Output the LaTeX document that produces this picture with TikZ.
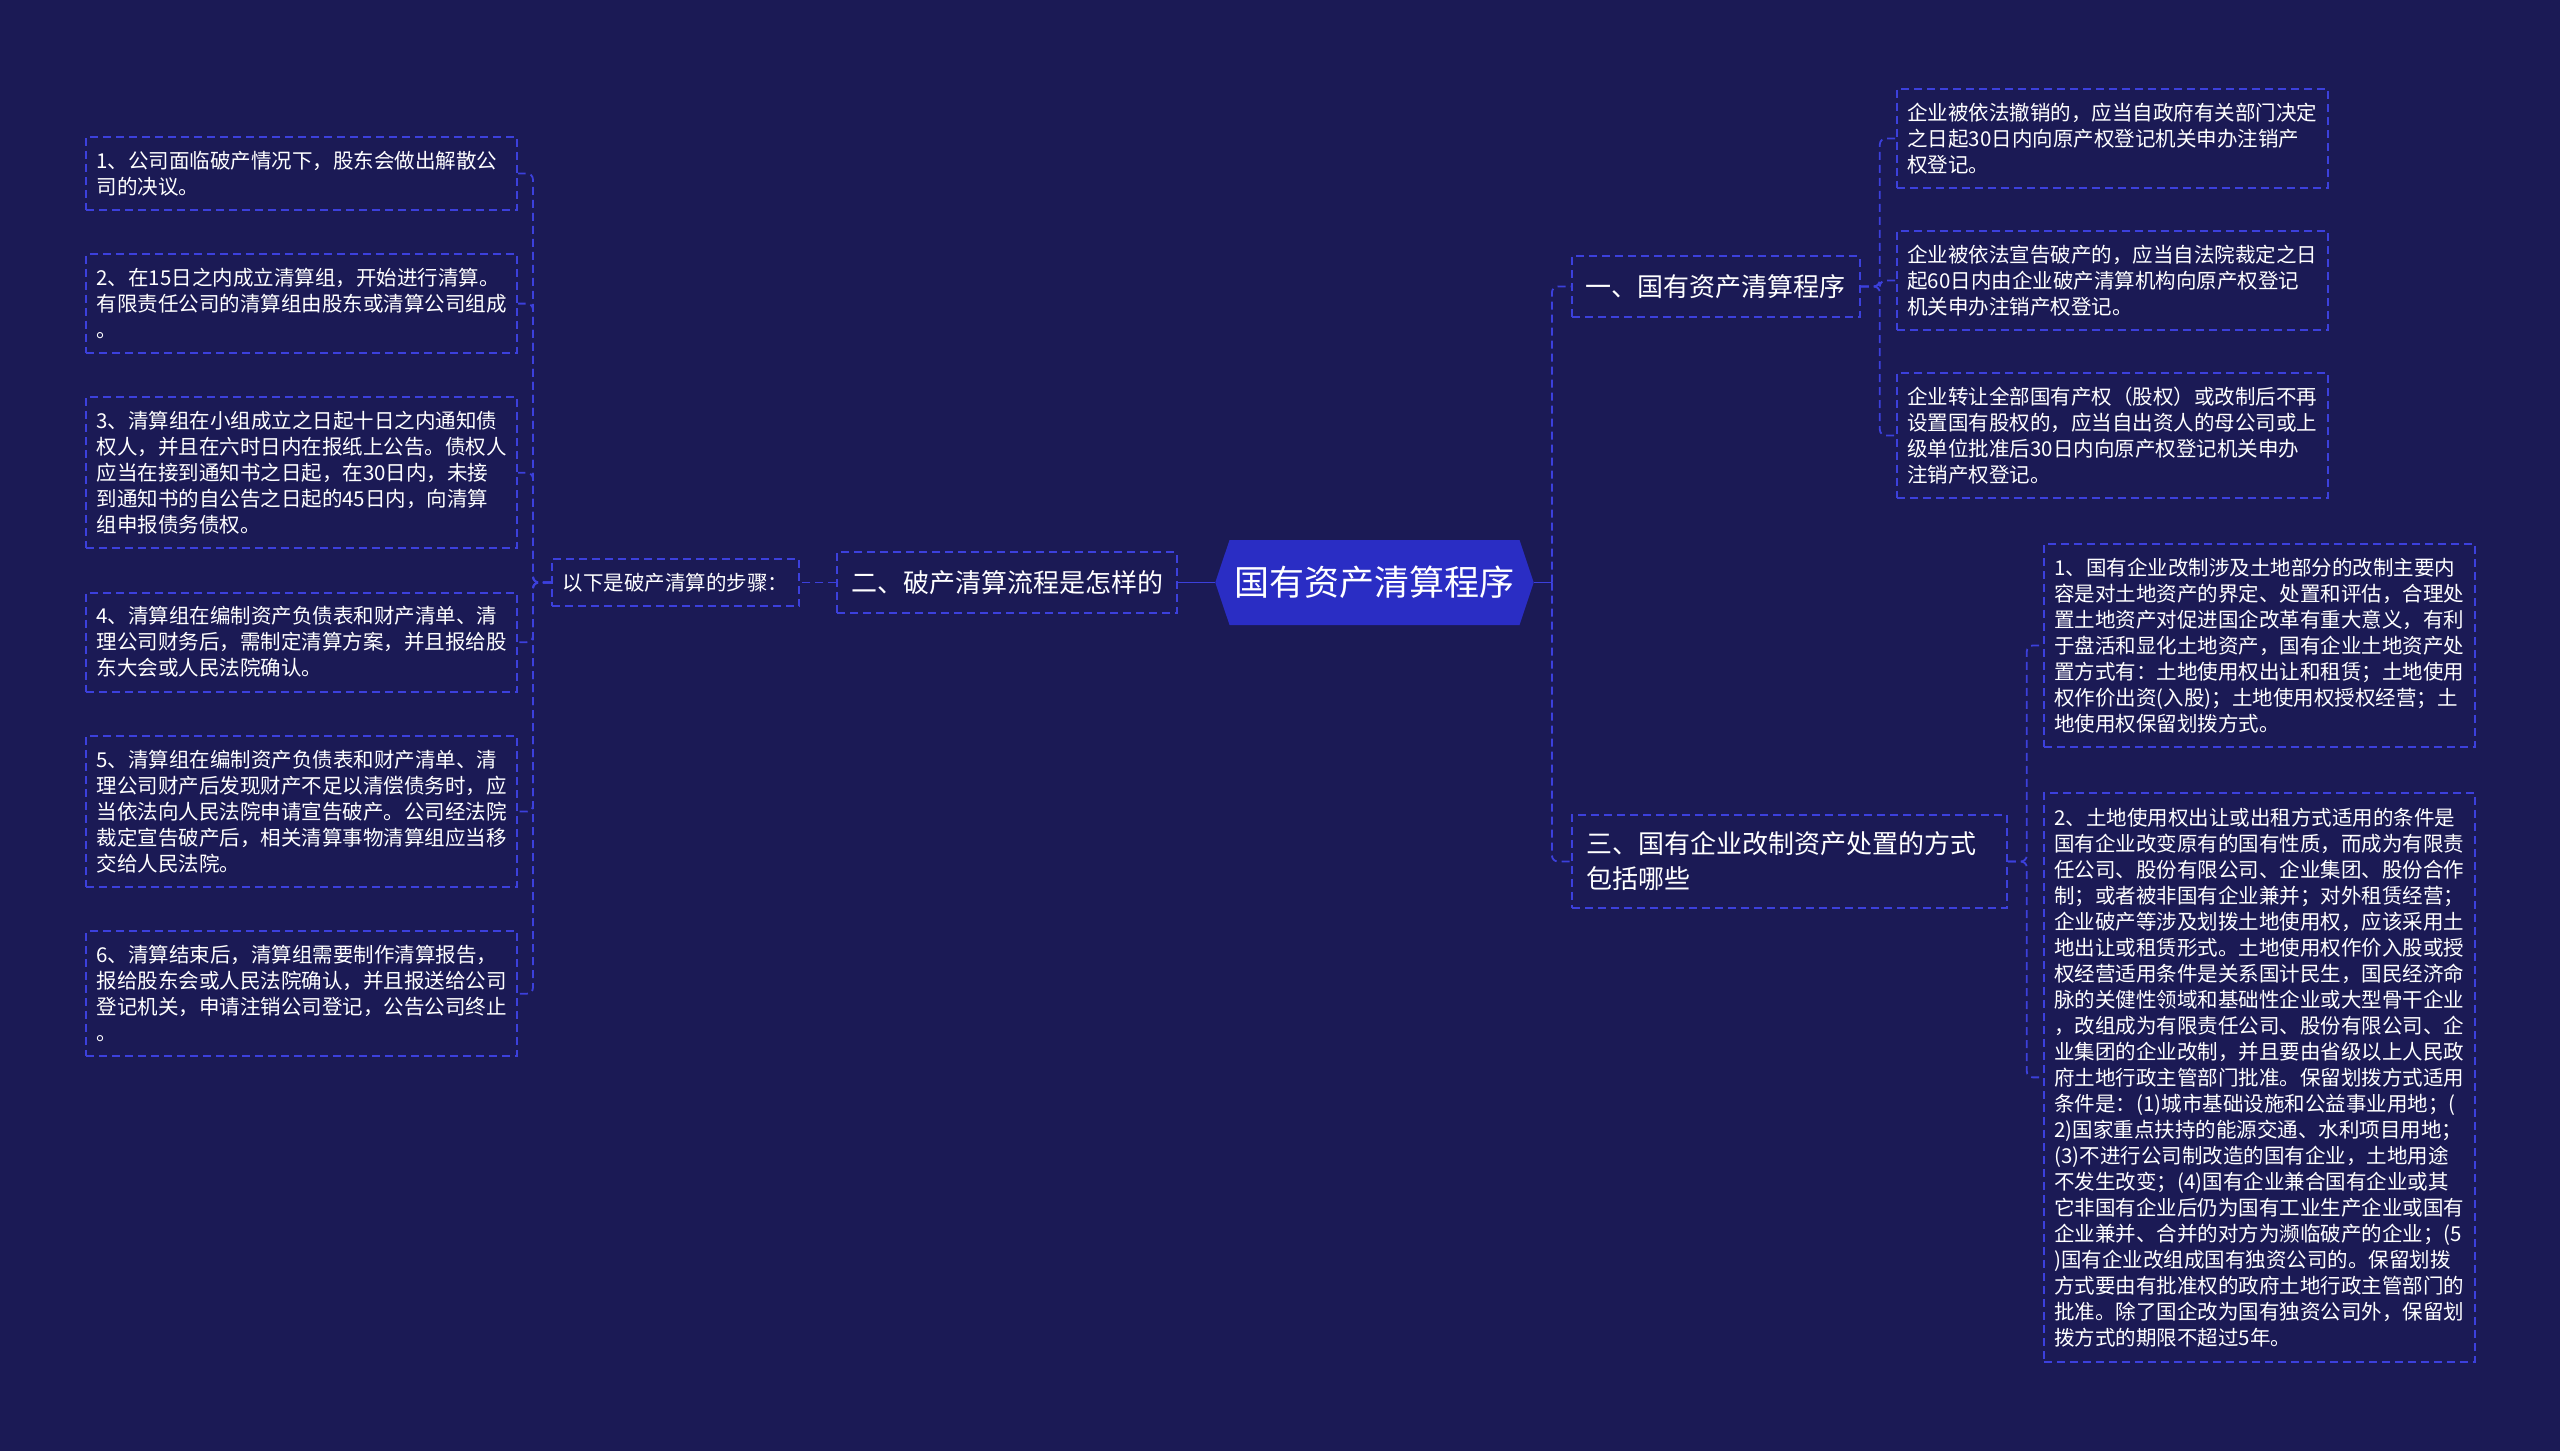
\documentclass[tikz,border=0pt]{standalone}
\usepackage{fontspec}
\setmainfont{Noto Sans CJK SC}
\usetikzlibrary{positioning, shapes.symbols}

\definecolor{bgnavy}{HTML}{1B1A55}
\definecolor{edgeblue}{HTML}{3C40DC}
\definecolor{rootblue}{HTML}{2A2DC4}

\tikzset{
  topic/.style={draw=edgeblue, line width=1.8pt, dash pattern=on 8pt off 5pt, text=white,
    font=\fontsize{26pt}{35pt}\selectfont, inner xsep=14pt, inner ysep=18pt, align=left},
  leaf/.style={draw=edgeblue, line width=1.8pt, dash pattern=on 8pt off 5pt, text=white,
    font=\fontsize{20.5pt}{26pt}\selectfont, text width=410pt, inner xsep=10.5pt, inner ysep=14pt, align=left},
  link/.style={draw=edgeblue, line width=1.8pt, dash pattern=on 8pt off 5pt, rounded corners=6pt},
}

\begin{document}
\begin{tikzpicture}[x=1pt, y=-1pt]
    \fill[bgnavy] (0,0) rectangle (2560,1451);
    \useasboundingbox (0,0) rectangle (2560,1451);

    % Nodes
    \node[signal, signal to=west and east, signal pointer angle=143, fill=rootblue, text=white,
      font=\fontsize{35pt}{35pt}\selectfont, text height=30pt, text depth=4pt,
      inner xsep=5pt, inner ysep=25.5pt] (root) at (1374.5,582.5) {国有资产清算程序};

    % left branch
    \node[topic] (flow) [left=37pt of root] {二、破产清算流程是怎样的};
    \node[leaf, text width=, inner xsep=11pt, inner ysep=14pt] (intro) [left=36pt of flow] {以下是破产清算的步骤：};

    \node[leaf, anchor=north east] (s1) at (518,136) {1、公司面临破产情况下，股东会做出解散公\\司的决议。};
    \node[leaf] (s2) [below=42.5pt of s1] {2、在15日之内成立清算组，开始进行清算。\\有限责任公司的清算组由股东或清算公司组成\\。};
    \node[leaf] (s3) [below=42.5pt of s2] {3、清算组在小组成立之日起十日之内通知债\\权人，并且在六时日内在报纸上公告。债权人\\应当在接到通知书之日起，在30日内，未接\\到通知书的自公告之日起的45日内，向清算\\组申报债务债权。};
    \node[leaf] (s4) [below=42.5pt of s3] {4、清算组在编制资产负债表和财产清单、清\\理公司财务后，需制定清算方案，并且报给股\\东大会或人民法院确认。};
    \node[leaf] (s5) [below=42.5pt of s4] {5、清算组在编制资产负债表和财产清单、清\\理公司财产后发现财产不足以清偿债务时，应\\当依法向人民法院申请宣告破产。公司经法院\\裁定宣告破产后，相关清算事物清算组应当移\\交给人民法院。};
    \node[leaf] (s6) [below=42.5pt of s5] {6、清算结束后，清算组需要制作清算报告，\\报给股东会或人民法院确认，并且报送给公司\\登记机关，申请注销公司登记，公告公司终止\\。};

    % right branch
    \node[topic, anchor=west] (one) at (1571,286.5) {一、国有资产清算程序};
    \node[topic, anchor=west, text width=405pt, inner xsep=15pt, inner ysep=17pt] (three) at (1571,861.5) {三、国有企业改制资产处置的方式\\包括哪些};

    \node[leaf, anchor=north west] (a) at (1896,88) {企业被依法撤销的，应当自政府有关部门决定\\之日起30日内向原产权登记机关申办注销产\\权登记。};
    \node[leaf] (b) [below=41pt of a] {企业被依法宣告破产的，应当自法院裁定之日\\起60日内由企业破产清算机构向原产权登记\\机关申办注销产权登记。};
    \node[leaf] (c) [below=41pt of b] {企业转让全部国有产权（股权）或改制后不再\\设置国有股权的，应当自出资人的母公司或上\\级单位批准后30日内向原产权登记机关申办\\注销产权登记。};

    \node[leaf, anchor=north west] (d) at (2043,543) {1、国有企业改制涉及土地部分的改制主要内\\容是对土地资产的界定、处置和评估，合理处\\置土地资产对促进国企改革有重大意义，有利\\于盘活和显化土地资产，国有企业土地资产处\\置方式有：土地使用权出让和租赁；土地使用\\权作价出资(入股)；土地使用权授权经营；土\\地使用权保留划拨方式。};
    \node[leaf, inner ysep=15pt] (e) [below=44pt of d] {2、土地使用权出让或出租方式适用的条件是\\国有企业改变原有的国有性质，而成为有限责\\任公司、股份有限公司、企业集团、股份合作\\制；或者被非国有企业兼并；对外租赁经营；\\企业破产等涉及划拨土地使用权，应该采用土\\地出让或租赁形式。土地使用权作价入股或授\\权经营适用条件是关系国计民生，国民经济命\\脉的关健性领域和基础性企业或大型骨干企业\\，改组成为有限责任公司、股份有限公司、企\\业集团的企业改制，并且要由省级以上人民政\\府土地行政主管部门批准。保留划拨方式适用\\条件是：(1)城市基础设施和公益事业用地；(\\2)国家重点扶持的能源交通、水利项目用地；\\(3)不进行公司制改造的国有企业，土地用途\\不发生改变；(4)国有企业兼合国有企业或其\\它非国有企业后仍为国有工业生产企业或国有\\企业兼并、合并的对方为濒临破产的企业；(5\\)国有企业改组成国有独资公司的。保留划拨\\方式要由有批准权的政府土地行政主管部门的\\批准。除了国企改为国有独资公司外，保留划\\拨方式的期限不超过5年。};

    % Edges
    \draw[edgeblue, line width=1.8pt] (root.west) -- (flow.east);
    \draw[link] (flow.west) -- (intro.east);
    \foreach \i in {1,...,6}
        \draw[link] (intro.west) -- ++(-18,0) |- (s\i.east);

    \draw[edgeblue, line width=1.8pt] (root.east) -- ++(18,0) coordinate (rbus);
    \foreach \n in {one,three}
        \draw[link] (rbus) |- (\n.west);
    \foreach \n in {a,b,c}
        \draw[link] (one.east) -- ++(19,0) |- (\n.west);
    \foreach \n in {d,e}
        \draw[link] (three.east) -- ++(19,0) |- (\n.west);
\end{tikzpicture}
\end{document}
